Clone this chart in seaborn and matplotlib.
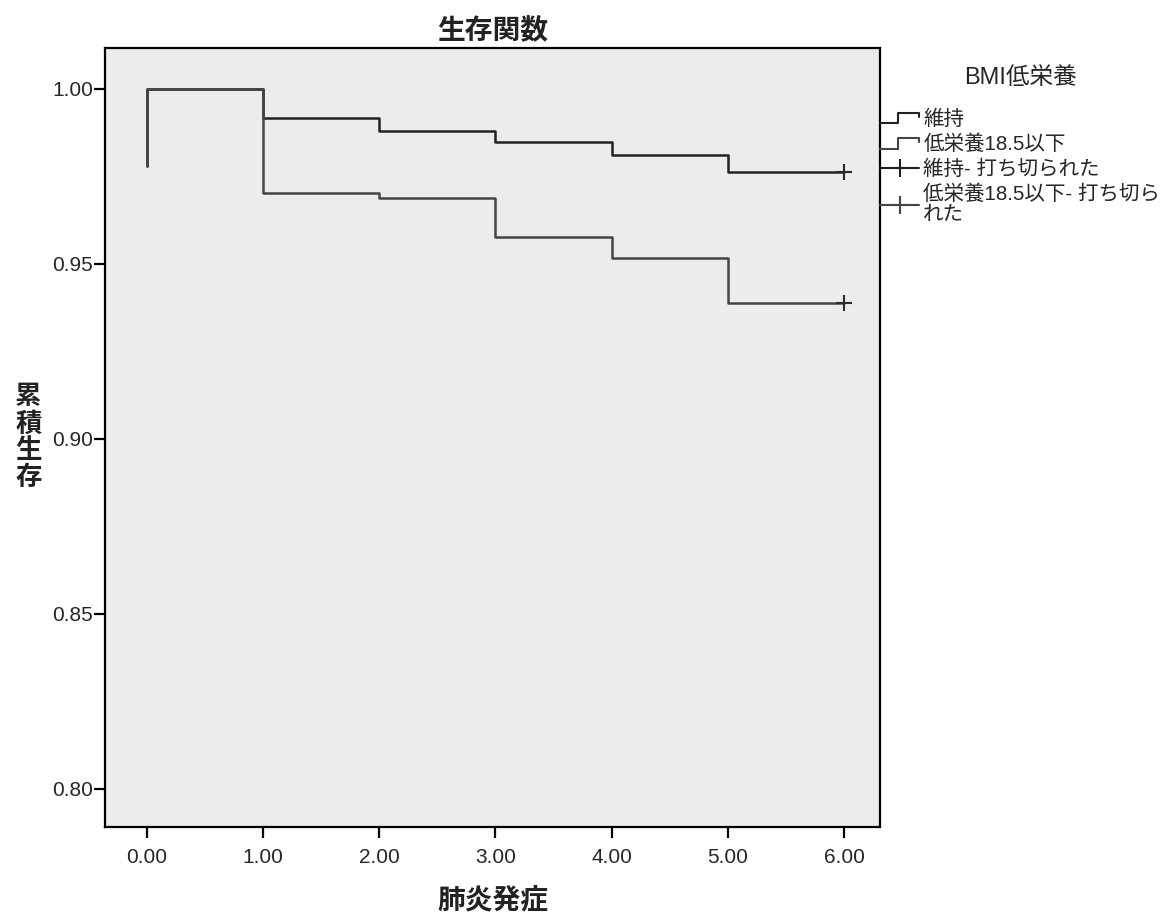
import numpy as np
import pandas as pd
import matplotlib
matplotlib.use('Agg')
import matplotlib.pyplot as plt
from matplotlib.lines import Line2D
from matplotlib.legend_handler import HandlerBase
import seaborn as sns

# 生存関数（Kaplan-Meier）の読み取り値
times = [0, 0, 1, 2, 3, 4, 5, 6]
surv_keep = [0.978, 1.000, 0.9917, 0.9880, 0.9848, 0.9812, 0.9763, 0.9763]
surv_low = [0.978, 1.000, 0.9703, 0.9689, 0.9578, 0.9516, 0.9389, 0.9389]
censor_time = [6, 6]
censor_surv = [0.9763, 0.9389]

groups = ['維持', '低栄養18.5以下']
legend_labels = ['維持', '低栄養18.5以下', '維持- 打ち切られた', '低栄養18.5以下- 打ち切ら\nれた']
x_ticks = [0, 1, 2, 3, 4, 5, 6]
y_ticks = [0.80, 0.85, 0.90, 0.95, 1.00]

sns.set_theme(style='white')
plt.rcParams['font.family'] = ['Liberation Sans', 'Noto Sans CJK JP', 'DejaVu Sans']
JP = ['Noto Sans CJK JP', 'DejaVu Sans']
MIX = ['Liberation Sans', 'Noto Sans CJK JP', 'DejaVu Sans']

df = pd.DataFrame({
    'time': times * 2,
    'surv': surv_keep + surv_low,
    'group': [groups[0]] * len(times) + [groups[1]] * len(times),
})
cens = pd.DataFrame({'time': censor_time, 'surv': censor_surv, 'group': groups})

line_col = {'維持': '#222222', '低栄養18.5以下': '#454545'}

fig = plt.figure(figsize=(11.63, 9.14), dpi=100)
ax = fig.add_axes([0.0903, 0.0952, 0.6664, 0.8523])
ax.set_facecolor('#ececec')

for g in groups:
    sub = df[df['group'] == g]
    sns.lineplot(data=sub, x='time', y='surv', sort=False, estimator=None,
                 drawstyle='steps-post', color=line_col[g], linewidth=1.8, ax=ax)
sns.scatterplot(data=cens, x='time', y='surv', marker='+', s=130, linewidth=1.5,
                color='#2a2a2a', ax=ax, legend=False, zorder=5)

ax.set_xlim(-0.36, 6.31)
ax.set_ylim(0.789, 1.0117)
ax.set_xticks(x_ticks)
ax.set_xticklabels([f'{t:.2f}' for t in x_ticks], fontsize=15)
ax.set_yticks(y_ticks)
ax.set_yticklabels([f'{t:.2f}' for t in y_ticks], fontsize=15)
ax.tick_params(axis='both', direction='out', length=8, width=1.6, color='black',
               bottom=True, left=True)
ax.tick_params(axis='x', pad=7)
ax.tick_params(axis='y', pad=0.5)
for s in ax.spines.values():
    s.set_visible(True)
    s.set_color('black')
    s.set_linewidth(1.6)

ax.set_title('生存関数', fontsize=20, fontweight='bold', family=JP, color='#222222', pad=6)
ax.set_xlabel('肺炎発症', fontsize=20, fontweight='bold', family=JP, color='#222222', labelpad=14)
ax.set_ylabel('累\n積\n生\n存', fontsize=19, fontweight='bold', family=JP, color='#222222',
              rotation=0, va='center', ha='center', linespacing=1.0)
ax.yaxis.set_label_coords(-0.099, 0.5)


class HandlerStep(HandlerBase):
    def create_artists(self, legend, orig_handle, xdescent, ydescent, width, height, fontsize, trans):
        x0, y0 = -xdescent, -ydescent
        xs = [x0, x0 + width * 0.45, x0 + width * 0.45, x0 + width, x0 + width]
        ys = [y0 + height * 0.1, y0 + height * 0.1, y0 + height * 0.85, y0 + height * 0.85, y0 + height * 0.55]
        ln = Line2D(xs, ys, color=orig_handle.get_color(), linewidth=1.5, transform=trans)
        return [ln]


h_step1 = Line2D([], [], color='#222222')
h_step2 = Line2D([], [], color='#454545')
h_c1 = Line2D([], [], color='#222222', marker='+', markersize=13, linewidth=1.5, markeredgewidth=1.5)
h_c2 = Line2D([], [], color='#454545', marker='+', markersize=13, linewidth=1.5, markeredgewidth=1.5)

leg = ax.legend([h_step1, h_step2, h_c1, h_c2], legend_labels,
                handler_map={h_step1: HandlerStep(), h_step2: HandlerStep()},
                loc='upper left', bbox_to_anchor=(1.0, 0.976), borderaxespad=0,
                frameon=False, handlelength=1.9, handletextpad=0.2, labelspacing=0.28,
                title='BMI低栄養', numpoints=1, borderpad=0,
                prop={'family': MIX, 'size': 14.8},
                title_fontproperties={'family': MIX, 'size': 17})
leg._legend_box.sep = 15
for t in leg.get_texts():
    t.set_linespacing(1.05)

fig.savefig('out.png', dpi=100, facecolor='white')
